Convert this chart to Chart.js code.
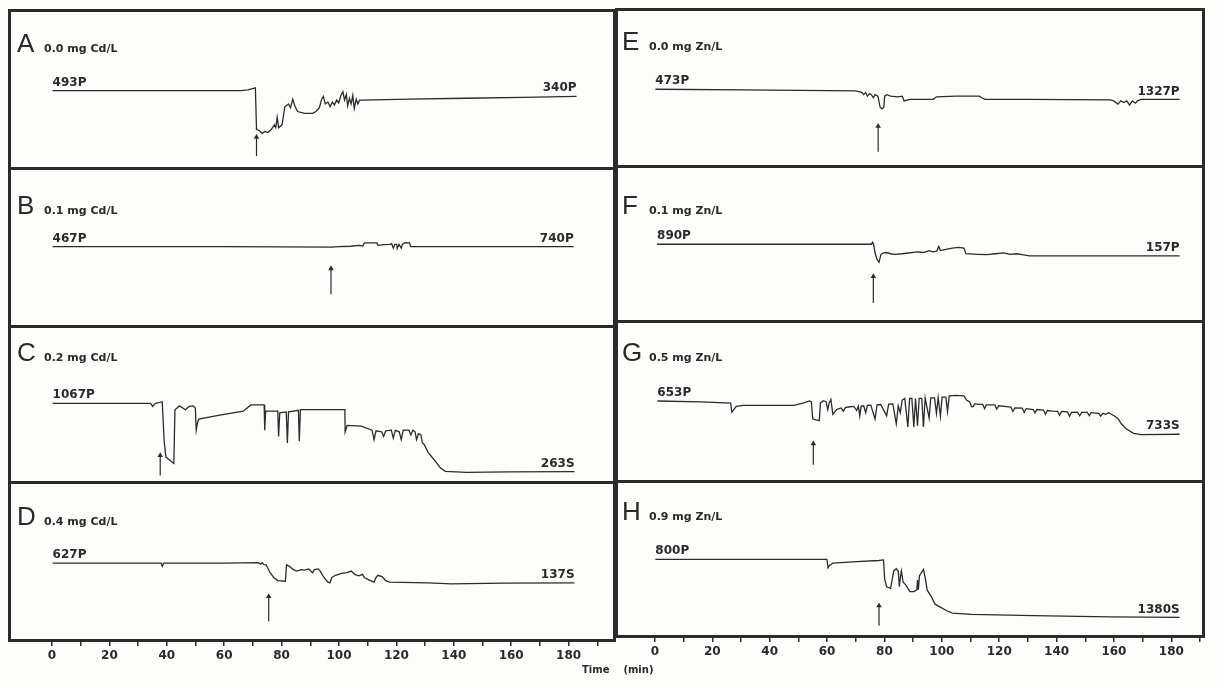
<!DOCTYPE html>
<html>
<head>
<meta charset="utf-8">
<script src="https://cdn.jsdelivr.net/npm/chart.js@4"></script>
<style>
  body { margin: 0; background: #fff; }
  #fig { position: relative; width: 1218px; height: 688px; overflow: hidden; background: #fdfdfb; }
  canvas { position: absolute; }
  .frame { position: absolute; border: 3px solid #2b2b2b; box-sizing: border-box; }
  .sep { position: absolute; height: 3px; background: #2b2b2b; }
  .ttl { position: absolute; display: flex; align-items: baseline; color: #2a2a2a; white-space: nowrap; }
  .ttl b { font: 400 26px 'Liberation Sans', sans-serif; width: 27px; }
  .ttl span { font: 700 11px 'DejaVu Sans', sans-serif; }
  #xt { position: absolute; left: 582px; top: 664px; font: 700 10px 'DejaVu Sans', sans-serif; color: #2a2a2a; white-space: pre; }
</style>
</head>
<body>
<div id="fig"></div>
<script>
// trace data: [time (min), signal offset from the starting level]
const traceA = [[-1,0],[20,0],[45,0],[65.5,0],[68,0.7],[70.6,3],[71,-41],[72,-42],[73,-45],[74,-43],[75,-44],[76.2,-41],[77.3,-36],[77.8,-39],[78.3,-28],[78.8,-39],[80,-36],[81,-17],[82.3,-14],[83,-18],[83.8,-9],[84.5,-16],[85.5,-22],[88,-24],[90.8,-24],[92,-22],[93.2,-18],[94,-9],[94.6,-6],[95.3,-14],[96.2,-12],[97,-17],[97.8,-12],[98.5,-15],[99.3,-10],[100,-13],[100.8,-5],[101.5,-1],[102.1,-10],[102.7,-4],[103.2,-16],[103.8,-8],[104.4,-14],[105,-5],[105.5,-19],[106.2,-9],[106.8,-14],[107.4,-10],[108.5,-10],[125,-9],[145,-8],[165,-7],[184,-6]];
const traceB = [[-1,0],[60,0],[97.6,-0.5],[100,0],[104.4,0.5],[107,1.5],[108.5,0.8],[109.1,4],[113.5,4],[113.9,1.5],[116,2.3],[118,2.5],[118.7,3.2],[119.3,-1.5],[119.8,2.5],[120.5,2.5],[120.7,-1.8],[121.3,2.5],[122.1,-1.5],[122.5,2.5],[123.4,4.3],[125,4],[125.5,0],[140,0],[183,0]];
const traceC = [[-1,0],[33.6,0],[34.3,-3.3],[35.3,0],[36.5,0.7],[37.7,1.7],[38.4,-40],[39,-56.7],[41.8,-63.3],[42.2,-6.7],[43.8,-2.7],[45.9,-6.7],[47.2,-3.3],[48.6,-2.7],[49.4,-5],[49.7,-28.3],[50.2,-20],[50.6,-16.7],[58,-12.5],[66.3,-8.3],[69,-1.7],[73.7,-1.7],[73.9,-28.3],[74.2,-10],[74.4,-8.3],[78.5,-8.3],[78.8,-35],[79.2,-10],[81.5,-9],[81.9,-41.7],[82.3,-9],[85.8,-7.3],[86.1,-40],[86.5,-6.7],[102.2,-6.7],[102.3,-30],[103,-23.3],[108,-24],[111.8,-28.3],[112.5,-38.3],[113.2,-29],[115.2,-30],[115.9,-35],[116.6,-29],[118.6,-28.3],[119.3,-36.7],[120,-28.5],[121.4,-30],[122.1,-38.3],[122.8,-28.3],[124.8,-28.3],[125.5,-33.3],[126.2,-28.3],[127,-30],[127.5,-38.3],[128.2,-32],[129,-33],[129.6,-41.7],[130.2,-43.3],[131.6,-51.7],[132.5,-55],[134.3,-61.7],[136,-68.3],[137.7,-71.7],[145.2,-72.7],[160,-72.3],[183.3,-72]];
const traceD = [[-1,0],[37.3,0],[37.7,-3.3],[38.2,0],[60,0],[71.7,0.7],[72.5,-1],[73,0.5],[73.6,-1.5],[74.4,-1.7],[75.8,-10],[77.1,-15],[78.5,-18.3],[81.2,-19],[81.6,-1.7],[82.6,-3.3],[84,-6.7],[85.3,-8.3],[86.7,-6.7],[88,-7.3],[89.4,-6],[90.8,-10],[91.4,-6.7],[92.8,-6],[93.5,-8.3],[94.8,-15],[96.2,-20],[96.9,-20.7],[97.6,-15],[98.9,-12.7],[101,-10.7],[103,-10],[104.4,-8.3],[105.7,-11.7],[107.1,-13.3],[108.4,-11.7],[109.1,-15],[110.5,-17.3],[112.5,-20],[113.2,-15],[113.9,-12.7],[115.3,-14],[116.6,-18.3],[118,-20],[131.6,-20.7],[139.8,-21.7],[158.8,-21],[183.3,-20.7]];
const traceE = [[-1.1,0],[30,-0.7],[69.7,-1.7],[71.8,-3.3],[72.5,-5.7],[73.2,-3.5],[73.8,-7.3],[74.6,-4.5],[75.2,-5.7],[75.9,-9],[76.5,-5.7],[77.5,-7.3],[78.3,-19],[79,-20.7],[79.6,-19],[79.9,-7.3],[80.6,-5.7],[82,-7.3],[84.5,-8],[86.1,-7.3],[86.8,-12.3],[88.8,-10.7],[97,-10.7],[98.3,-8],[105,-7.3],[113.3,-7.3],[114.2,-9],[115.4,-10.7],[130,-10.7],[159.6,-11.3],[160.8,-12.3],[162.3,-15.7],[163.3,-12.3],[164.4,-14],[165.4,-12.3],[166.4,-16.7],[167.4,-12.3],[168.5,-14.7],[169.2,-12.3],[170.5,-10.7],[184.1,-10.7]];
const traceF = [[-0.5,0],[60,0],[75.2,0],[75.6,2],[76,0],[76.5,-9],[77.2,-16],[77.9,-19],[78.6,-10.7],[79.5,-9],[80.6,-8.7],[82,-10],[83.4,-10.7],[86.1,-10],[91.5,-8],[93.5,-8.7],[95.6,-6.7],[97,-8],[98.3,-7.3],[99,-2.3],[99.6,-6.7],[101.1,-5.7],[103.8,-4],[106,-3.3],[107.9,-4],[108.6,-10],[113,-10.7],[116,-11],[119,-10],[122,-9],[124.2,-10.7],[126.5,-10],[129,-11.3],[131,-12.3],[133.8,-12.3],[160,-12.3],[184.1,-12.3]];
const traceG = [[-0.4,0],[15,-1],[25.5,-2.3],[25.9,-11.7],[27.5,-5.7],[30,-4.7],[47.9,-4.7],[51,-2.3],[53.4,0],[54,-1],[54.5,-19],[56.8,-20.7],[57.2,-2.3],[58.2,0.3],[59.2,-0.7],[59.8,-9],[60.3,-2],[60.9,1.7],[61.6,-14],[62.9,-9],[64.5,-7.3],[65.3,-10.7],[66,-7],[67,-6.3],[69,-5.7],[70,-10],[70.6,-5.5],[71.1,-15.7],[71.6,-5.3],[72.5,-5],[73.2,-12.3],[73.8,-4.7],[75,-4.3],[76.5,-19],[77.2,-4],[78.5,-3.7],[80.6,-15.7],[81.3,-3.3],[82.8,-3],[84,-24],[84.7,-5],[85.4,-12.3],[86.1,1],[87,2.7],[88.1,-27.3],[88.7,2.7],[89.5,2.7],[90.2,-27.3],[90.8,2.7],[91.5,-26],[92.1,2.7],[93,2.7],[93.6,-27.3],[94.2,3.3],[95.6,-18],[96.2,3.3],[97.5,3.3],[98.2,-13],[98.8,3.7],[99.6,-16],[100.2,4],[101.5,4],[102.1,-11],[102.7,5.3],[105,6],[107.9,5.3],[108.8,1],[109.9,-0.7],[110.6,-6],[111.3,-5.7],[111.6,-3],[113,-3.5],[114.5,-3.5],[115.2,-8],[115.8,-4],[118.8,-4],[119.5,-8.5],[120.2,-5],[123,-6],[124.5,-6.5],[125.2,-11],[125.9,-7.3],[128.5,-7.5],[129.2,-12],[129.9,-8],[132.4,-9],[133,-12.5],[133.7,-9],[136,-9.5],[136.7,-14],[137.4,-10],[139.2,-10.7],[141,-11],[141.7,-15],[142.4,-11],[144.5,-11.5],[145.2,-16],[145.9,-12],[148,-11.7],[148.8,-15.5],[149.5,-12],[151.5,-12],[152.2,-15.5],[152.8,-12.3],[155.5,-13],[156.2,-16],[157,-13],[158,-14],[159,-12.3],[160,-14],[161.2,-16],[162.3,-18.3],[163.5,-24],[165.1,-29],[167.8,-34],[170.5,-35.3],[184.1,-35]];
const traceH = [[-1.1,0],[40,0],[59.5,0],[59.9,-9],[60.5,-6],[60.9,-5.7],[61.6,-4],[70,-2.5],[77.9,-1.3],[79.5,-0.7],[79.9,-20.7],[80.6,-29],[82,-30.7],[83.1,-12.3],[84,-10],[84.7,-12.3],[85.1,-29],[85.4,-20],[85.8,-12.3],[86.4,-24],[87.4,-27.3],[88.8,-34],[90.2,-34],[91.3,-32.3],[91.5,-22],[91.8,-32],[92.2,-17.3],[93.6,-10.7],[94.3,-20.7],[94.9,-32.3],[96.3,-39],[97.7,-47.3],[99.7,-50.7],[101.7,-54],[103.8,-56.7],[110.6,-58],[132.4,-59.3],[159.6,-60.7],[184.1,-61.3]];

const traces = [traceA, traceB, traceC, traceD, traceE, traceF, traceG, traceH];
const letters = ['A','B','C','D','E','F','G','H'];
const concLabels = ['0.0 mg Cd/L','0.1 mg Cd/L','0.2 mg Cd/L','0.4 mg Cd/L','0.0 mg Zn/L','0.1 mg Zn/L','0.5 mg Zn/L','0.9 mg Zn/L'];
const startLabels = ['493P','467P','1067P','627P','473P','890P','653P','800P'];
const endLabels = ['340P','740P','263S','137S','1327P','157P','733S','1380S'];
// arrow: time of addition, tip level, tail level
const arrowTimes = [71, 97.3, 37, 75.3, 77.6, 75.9, 54.7, 77.9];
const arrowTips = [-49, -23, -55, -35, -39, -34, -45, -49];
const arrowTails = [-69, -50, -76, -61, -66, -62, -67, -70];
const xTicks = [0,10,20,30,40,50,60,70,80,90,100,110,120,130,140,150,160,170,180,190];

// layout (pixels)
const pxPerMin = 2.87;
const cols = [
  { left: 10, right: 614, zeroX: 52, rows: [11, 168, 326, 482, 641], base: [90.7, 246.7, 403.3, 563.3], ttlY: [45, 207, 354, 518], ttlX: 17 },
  { left: 617, right: 1203, zeroX: 655, rows: [10, 166, 321, 481, 637], base: [89.3, 244.3, 401, 559.3], ttlY: [43, 207, 354, 513], ttlX: 622 }
];
const ink = '#2b2b2b';
const fig = document.getElementById('fig');

const traceLabels = {
  id: 'traceLabels',
  afterDatasetsDraw(chart, args, opts) {
    const pts = chart.getDatasetMeta(0).data;
    const first = pts[0], last = pts[pts.length - 1];
    const ctx = chart.ctx;
    ctx.save();
    ctx.font = '700 12px "DejaVu Sans"';
    ctx.fillStyle = '#2a2a2a';
    ctx.textBaseline = 'bottom';
    ctx.textAlign = 'left';
    ctx.fillText(opts.start, first.x, first.y - 2);
    ctx.textAlign = 'right';
    ctx.fillText(opts.end, last.x, last.y - 2);
    ctx.restore();
  }
};

function addCanvas(x, y, w, h) {
  const c = document.createElement('canvas');
  c.width = w; c.height = h;
  c.style.left = x + 'px'; c.style.top = y + 'px';
  fig.appendChild(c);
  return c;
}

cols.forEach((col, ci) => {
  const w = col.right - col.left;
  const xMin = (col.left - col.zeroX) / pxPerMin;
  const xMax = (col.right - col.zeroX) / pxPerMin;

  for (let r = 0; r < 4; r++) {
    const i = ci * 4 + r;
    const top = col.rows[r], bottom = col.rows[r + 1];
    const base = col.base[r];
    const cv = addCanvas(col.left, top, w, bottom - top);
    new Chart(cv, {
      type: 'line',
      data: {
        datasets: [
          {
            data: traces[i].map(p => ({ x: p[0], y: p[1] })),
            borderColor: ink, borderWidth: 1.3, pointRadius: 0, tension: 0
          },
          {
            data: [{ x: arrowTimes[i], y: arrowTails[i] }, { x: arrowTimes[i], y: arrowTips[i] }],
            borderColor: ink, borderWidth: 1.2,
            pointRadius: [0, 3.2], pointStyle: 'triangle',
            pointBackgroundColor: ink, pointBorderWidth: 0
          }
        ]
      },
      options: {
        responsive: false, animation: false, events: [],
        layout: { padding: 0 },
        plugins: {
          legend: { display: false }, tooltip: { enabled: false },
          traceLabels: { start: startLabels[i], end: endLabels[i] }
        },
        scales: {
          x: { type: 'linear', display: false, min: xMin, max: xMax },
          y: { display: false, min: base - bottom, max: base - top }
        }
      },
      plugins: [traceLabels]
    });

    const t = document.createElement('div');
    t.className = 'ttl';
    t.style.left = col.ttlX + 'px';
    t.style.top = (col.ttlY[r] - 17) + 'px';
    t.innerHTML = '<b>' + letters[i] + '</b><span>' + concLabels[i] + '</span>';
    fig.appendChild(t);

    if (r > 0) {
      const s = document.createElement('div');
      s.className = 'sep';
      s.style.left = col.left + 'px';
      s.style.width = w + 'px';
      s.style.top = (top - 1) + 'px';
      fig.appendChild(s);
    }
  }

  // outer frame of the column
  const f = document.createElement('div');
  f.className = 'frame';
  f.style.left = (col.left - 2) + 'px';
  f.style.top = (col.rows[0] - 2) + 'px';
  f.style.width = (w + 4) + 'px';
  f.style.height = (col.rows[4] - col.rows[0] + 3) + 'px';
  fig.appendChild(f);

  // time axis under the column
  const axTop = col.rows[4];
  const axH = 688 - axTop;
  const ax = addCanvas(col.left, axTop, w, axH);
  new Chart(ax, {
    type: 'line',
    data: { datasets: [] },
    options: {
      responsive: false, animation: false, events: [],
      layout: { padding: 0 },
      plugins: { legend: { display: false }, tooltip: { enabled: false } },
      scales: {
        x: {
          type: 'linear', position: 'bottom', min: xMin, max: xMax,
          afterFit(s) { s.height = axH - 1; },
          afterBuildTicks(s) { s.ticks = xTicks.map(v => ({ value: v })); },
          border: { display: false },
          grid: { drawOnChartArea: false, tickLength: 4, color: ink, lineWidth: 1.5 },
          ticks: {
            autoSkip: false, maxRotation: 0, padding: 3, color: '#2a2a2a',
            font: { family: 'DejaVu Sans', size: 12, weight: 'bold' },
            callback: v => (v % 20 === 0 && v <= 180) ? String(v) : ''
          }
        },
        y: { display: false }
      }
    }
  });
});

const xt = document.createElement('div');
xt.id = 'xt';
xt.textContent = 'Time    (min)';
fig.appendChild(xt);
</script>
</body>
</html>
